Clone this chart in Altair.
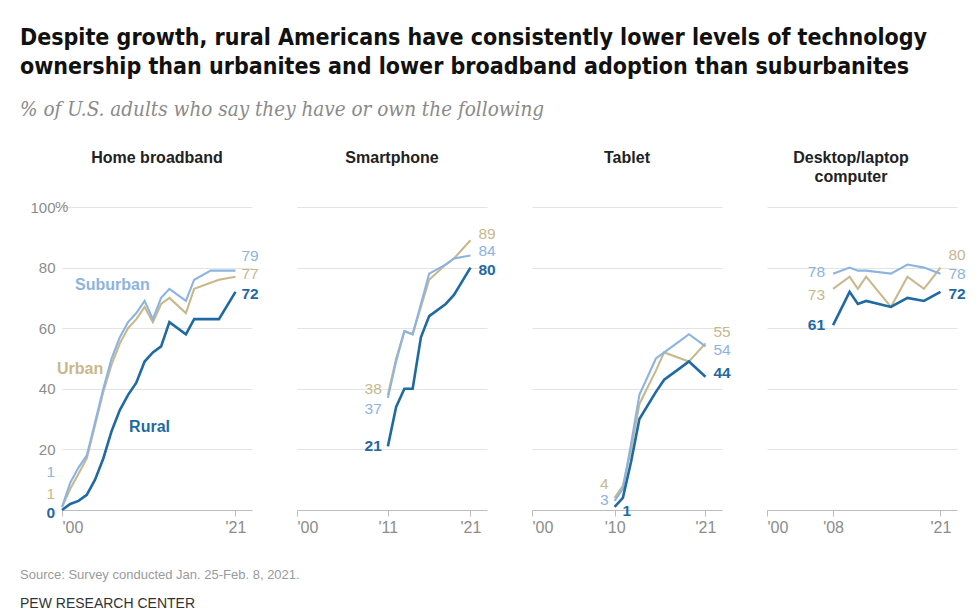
import altair as alt
import pandas as pd

SERIES = ["Urban", "Suburban", "Rural"]
COLORS = {"Rural": "#1f6aa3", "Suburban": "#8cb4e0", "Urban": "#c8b88c"}

# Home broadband
bb_years = [2000, 2001, 2002, 2003, 2004, 2005, 2006, 2007, 2008, 2009, 2010,
            2011, 2012, 2013, 2015, 2016, 2018, 2019, 2021]
bb_rural = [0, 2, 3, 5, 10, 17, 26, 33, 38, 42, 49, 52, 54, 62, 58, 63, 63, 63, 72]
bb_suburban = [1, 9, 14, 18, 29, 40, 50, 57, 62, 65, 69, 63, 70, 73, 69, 76, 79, 79, 79]
bb_urban = [1, 7, 12, 17, 28, 39, 48, 55, 60, 63, 67, 62, 68, 70, 65, 73, 75, 76, 77]

# Smartphone
sp_years = [2011, 2012, 2013, 2014, 2015, 2016, 2018, 2019, 2021]
sp_rural = [21, 34, 40, 40, 57, 64, 68, 71, 80]
sp_suburban = [37, 49, 59, 58, 68, 78, 81, 83, 84]
sp_urban = [38, 50, 59, 58, 67, 76, 81, 83, 89]

# Tablet
tb_years = [2010, 2011, 2012, 2013, 2015, 2016, 2018, 2019, 2021]
tb_rural = [1, 4, 16, 30, 39, 43, 47, 49, 44]
tb_suburban = [3, 7, 22, 38, 50, 52, 56, 58, 54]
tb_urban = [4, 8, 20, 35, 46, 52, 50, 49, 55]

# Desktop/laptop computer
dt_years = [2008, 2010, 2011, 2012, 2015, 2017, 2019, 2021]
dt_rural = [61, 72, 68, 69, 67, 70, 69, 72]
dt_suburban = [78, 80, 79, 79, 78, 81, 80, 78]
dt_urban = [73, 77, 73, 77, 67, 77, 73, 80]

PANELS = [
    ("Home broadband", bb_years, {"Rural": bb_rural, "Suburban": bb_suburban, "Urban": bb_urban}, [2000, 2021]),
    ("Smartphone", sp_years, {"Rural": sp_rural, "Suburban": sp_suburban, "Urban": sp_urban}, [2000, 2011, 2021]),
    ("Tablet", tb_years, {"Rural": tb_rural, "Suburban": tb_suburban, "Urban": tb_urban}, [2000, 2010, 2021]),
    ("Desktop/laptop computer", dt_years, {"Rural": dt_rural, "Suburban": dt_suburban, "Urban": dt_urban}, [2000, 2008, 2021]),
]
PANEL_TITLES = [["Home broadband", " "], ["Smartphone", " "], ["Tablet", " "], ["Desktop/laptop", "computer"]]
TITLE_DX = [0, 0, 0, -11]

# label nudges (pixels): (dx, dy, align)
START_NUDGE = [
    {"Suburban": (-7, -35, "right"), "Urban": (-7, -13, "right"), "Rural": (-7, 3, "right")},
    {"Urban": (-6, -6, "right"), "Suburban": (-6, 11, "right"), "Rural": (-6, 0, "right")},
    {"Urban": (-6, -14, "right"), "Suburban": (-6, -1, "right"), "Rural": (8, 4, "left")},
    {"Suburban": (-8, -2, "right"), "Urban": (-8, 6, "right"), "Rural": (-8, 0, "right")},
]
END_NUDGE = [
    {"Suburban": (6, -15), "Urban": (6, -3), "Rural": (6, 2)},
    {"Urban": (8, -6), "Suburban": (8, -4), "Rural": (8, 2)},
    {"Urban": (8, -11), "Suburban": (8, 4), "Rural": (8, -4)},
    {"Urban": (8, -13), "Suburban": (8, 0), "Rural": (8, 2)},
]
NAME_LABELS = [("Suburban", 2006.1, 74.3), ("Urban", 2002.2, 46.5), ("Rural", 2010.6, 27.4)]

W, H = 190, 303
GRAY = "#8c8c8c"
FONT = "Liberation Sans"


def make_panel(i):
    name, years, vals, ticks = PANELS[i]
    rows = []
    for s in SERIES:
        for yr, v in zip(years, vals[s]):
            rows.append({"year": yr, "value": v, "series": s})
    df = pd.DataFrame(rows)

    x = alt.X("year:Q", scale=alt.Scale(domain=[2000, 2023], nice=False, zero=False),
              axis=alt.Axis(values=ticks, format="d", labelExpr="\"'\" + slice(datum.label, 2)",
                            title=None, grid=False, domainColor="#bdbdbd", tickColor="#bdbdbd",
                            tickSize=6, labelColor=GRAY, labelFontSize=16, labelPadding=3,
                            labelFont=FONT))
    y = alt.Y("value:Q", scale=alt.Scale(domain=[0, 100], nice=False),
              axis=alt.Axis(values=[20, 40, 60, 80, 100], grid=True, gridColor="#e3e3e3",
                            domain=False, ticks=False, labels=(i == 0), title=None,
                            labelColor=GRAY, labelFontSize=15, labelPadding=7, labelFont=FONT))

    layers = []
    for s in SERIES:
        sub = df[df.series == s]
        layers.append(alt.Chart(sub).mark_line(
            color=COLORS[s], strokeWidth=2.6 if s == "Rural" else 2.1).encode(x=x, y=y))

    for s in ["Urban", "Suburban", "Rural"]:
        sub = df[df.series == s]
        first = sub.iloc[[0]].copy()
        last = sub.iloc[[-1]].copy()
        first["label"] = first["value"].astype(int).astype(str)
        last["label"] = last["value"].astype(int).astype(str)
        bold = "bold" if s == "Rural" else "normal"
        dx, dy, al = START_NUDGE[i][s]
        layers.append(alt.Chart(first).mark_text(
            align=al, baseline="middle", dx=dx, dy=dy, fontSize=15.5, font=FONT,
            fontWeight=bold, color=COLORS[s]).encode(x="year:Q", y="value:Q", text="label:N"))
        dx, dy = END_NUDGE[i][s]
        layers.append(alt.Chart(last).mark_text(
            align="left", baseline="middle", dx=dx, dy=dy, fontSize=15.5, font=FONT,
            fontWeight=bold, color=COLORS[s]).encode(x="year:Q", y="value:Q", text="label:N"))

    if i == 0:
        layers.append(alt.Chart(pd.DataFrame({"t": ["%"], "v": [100]})).mark_text(
            align="left", baseline="middle", fontSize=15, font=FONT, color=GRAY).encode(
            x=alt.value(-7), y=alt.Y("v:Q"), text="t:N"))
        for s, yr, v in NAME_LABELS:
            layers.append(alt.Chart(pd.DataFrame({"year": [yr], "value": [v], "t": [s]})).mark_text(
                align="center", baseline="middle", fontSize=16, font=FONT, fontWeight="bold",
                color=COLORS[s]).encode(x="year:Q", y="value:Q", text="t:N"))
        layers.append(alt.Chart(pd.DataFrame({"t": ["Source: Survey conducted Jan. 25-Feb. 8, 2021."]})).mark_text(
            align="left", baseline="middle", fontSize=13, font=FONT, color="#9a9a9a").encode(
            x=alt.value(-42), y=alt.value(368), text="t:N"))
        layers.append(alt.Chart(pd.DataFrame({"t": ["PEW RESEARCH CENTER"]})).mark_text(
            align="left", baseline="middle", fontSize=14, font=FONT, color="#333333").encode(
            x=alt.value(-42), y=alt.value(397), text="t:N"))

    return alt.layer(*layers).properties(
        width=W, height=H,
        title=alt.TitleParams(text=PANEL_TITLES[i], fontSize=16, fontWeight="bold", font=FONT,
                              color="#222222", anchor="middle", lineHeight=19, dx=TITLE_DX[i],
                              offset=15 if i == 0 else 22))


chart = alt.hconcat(*[make_panel(i) for i in range(4)], spacing=45, bounds="flush").properties(
    title=alt.TitleParams(
        text=["Despite growth, rural Americans have consistently lower levels of technology",
              "ownership than urbanites and lower broadband adoption than suburbanites"],
        subtitle="% of U.S. adults who say they have or own the following",
        anchor="start", font="DejaVu Sans Condensed",
        fontSize=23, fontWeight="bold", color="#111111", lineHeight=29,
        subtitleFont="DejaVu Serif Condensed", subtitleFontStyle="italic", subtitleFontSize=20.5,
        subtitleColor="#8a8a8a", subtitlePadding=21, offset=30),
    padding={"left": 12, "top": 18, "right": 5, "bottom": 0},
).configure_view(stroke=None)

chart.save("out.html", embed_options={"renderer": "svg", "actions": False})
